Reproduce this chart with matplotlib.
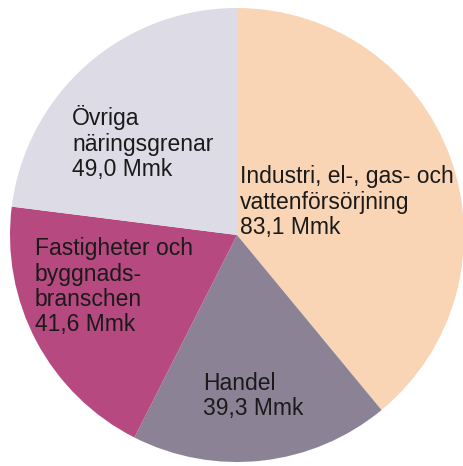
import numpy as np
import matplotlib
matplotlib.use("Agg")
import matplotlib.pyplot as plt

# Sektorer, medurs från klockan 12
names = ["Industri, el-, gas- och\nvattenförsörjning", "Handel",
         "Fastigheter och\nbyggnads-\nbranschen", "Övriga\nnäringsgrenar"]
values = [83.1, 39.3, 41.6, 49.0]
colors = ["#f9d5b6", "#8c8296", "#b6497f", "#dcdbe6"]

# label anchors in pixel coords of the reference (left x, first baseline y)
label_px = [(240, 183), (203, 390), (35, 255), (72, 125)]

cx, cy, r = 237, 235, 227  # pie centre and radius in pixels


def px_to_data(px, py):
    return (px - cx) / r, (cy - py) / r


fig = plt.figure(figsize=(4.64, 4.66), dpi=100)
ax = fig.add_axes([0, 0, 1, 1])
ax.pie(values, colors=colors, startangle=90, counterclock=False,
       radius=1, center=(0, 0), wedgeprops=dict(linewidth=0))
ax.set_aspect("auto")
ax.set_xlim(px_to_data(0, 0)[0], px_to_data(464, 0)[0])
ax.set_ylim(px_to_data(0, 466)[1], px_to_data(0, 0)[1])
ax.axis("off")

line_h = 25.5  # px between baselines
for name, val, (px, py) in zip(names, values, label_px):
    lines = name.split("\n") + [f"{val:.1f}".replace(".", ",") + " Mmk"]
    for i, line in enumerate(lines):
        x, y = px_to_data(px, py + i * line_h)
        ax.text(x, y, line, ha="left", va="baseline", fontsize=16.5,
                family="Liberation Sans", color="#1a1a1a")

plt.savefig("out.png", dpi=100, facecolor="white")
